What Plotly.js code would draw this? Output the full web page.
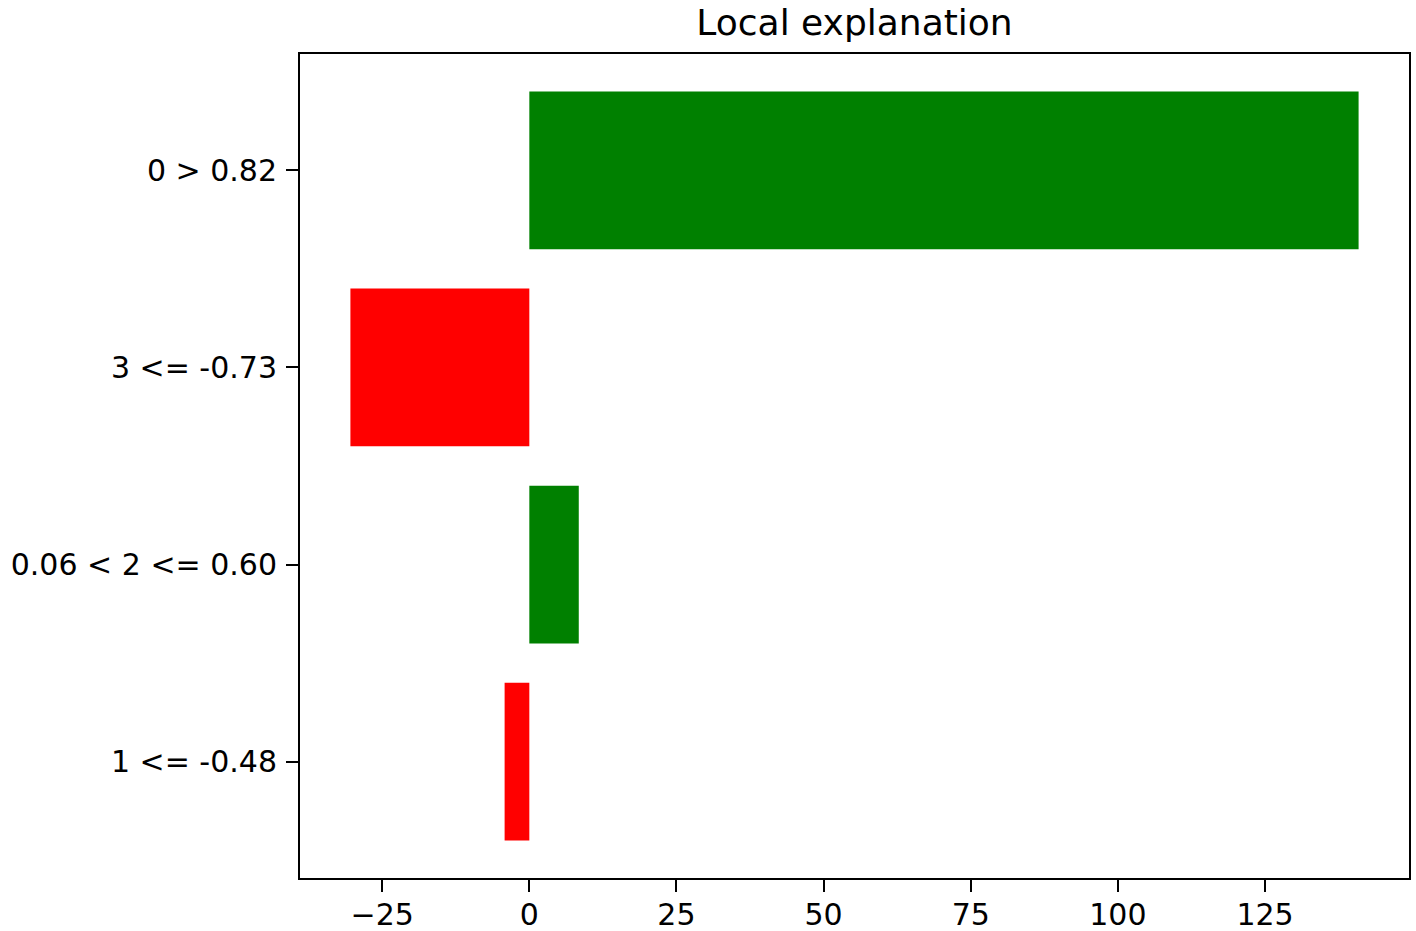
<!DOCTYPE html>
<html>
<head>
<meta charset="utf-8">
<script src="https://cdn.plot.ly/plotly-3.0.1.min.js"></script>
<style>
  html, body { margin: 0; padding: 0; background: #ffffff; }
  #chart { width: 1416px; height: 931px; }
</style>
</head>
<body>
<div id="chart"></div>
<script>
// Feature rule labels, bottom to top
const ruleLabels = ["1 <= -0.48", "0.06 < 2 <= 0.60", "3 <= -0.73", "0 > 0.82"];
// Local explanation weights
const weights = [-4.2, 8.4, -30.4, 140.9];
// X axis tick values and labels
const xTickValues = [-25, 0, 25, 50, 75, 100, 125];
const xTickLabels = ["\u221225", "0", "25", "50", "75", "100", "125"];

const positions = ruleLabels.map((_, i) => i);
const barColors = weights.map(v => v > 0 ? "#008000" : "#ff0000");

const trace = {
  type: "bar",
  orientation: "h",
  x: weights,
  y: positions,
  width: 0.8,
  marker: { color: barColors, line: { width: 0 } },
  hoverinfo: "x+text",
  text: ruleLabels,
  textposition: "none"
};

const minV = Math.min(0, ...weights), maxV = Math.max(0, ...weights);
const pad = (maxV - minV) * 0.05;

const layout = {
  width: 1416,
  height: 931,
  paper_bgcolor: "#ffffff",
  plot_bgcolor: "#ffffff",
  margin: { l: 300, r: 7, t: 54, b: 53, pad: 0 },
  showlegend: false,
  font: { family: "DejaVu Sans, sans-serif", color: "#000000", size: 30 },
  title: {
    text: "Local explanation",
    font: { family: "DejaVu Sans, sans-serif", size: 36, color: "#000000" },
    x: 0.5,
    xref: "paper",
    xanchor: "center",
    y: 1 - 22 / 931,
    yref: "container",
    yanchor: "middle"
  },
  xaxis: {
    range: [minV - pad, maxV + pad],
    tickmode: "array",
    tickvals: xTickValues,
    ticktext: xTickLabels,
    ticks: "outside",
    ticklen: 12,
    tickwidth: 2,
    tickcolor: "#000000",
    ticklabelstandoff: -3,
    showline: true,
    linecolor: "#000000",
    linewidth: 2,
    mirror: true,
    showgrid: false,
    zeroline: false,
    tickfont: { family: "DejaVu Sans, sans-serif", size: 30, color: "#000000" }
  },
  yaxis: {
    range: [-0.59, ruleLabels.length - 1 + 0.59],
    tickmode: "array",
    tickvals: positions,
    ticktext: ruleLabels,
    ticks: "outside",
    ticklen: 12,
    tickwidth: 2,
    tickcolor: "#000000",
    ticklabelstandoff: 3,
    showline: true,
    linecolor: "#000000",
    linewidth: 2,
    mirror: true,
    showgrid: false,
    zeroline: false,
    tickfont: { family: "DejaVu Sans, sans-serif", size: 30, color: "#000000" }
  }
};

Plotly.newPlot("chart", [trace], layout, { displayModeBar: false, staticPlot: true });
</script>
</body>
</html>
